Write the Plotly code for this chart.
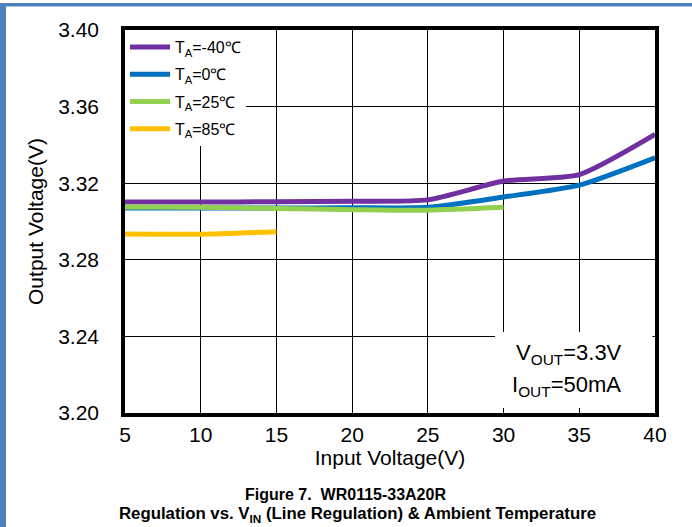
import plotly.graph_objects as go

x_vin = [5, 10, 15, 20, 25, 30, 35, 40]
v_m40 = [3.3102, 3.3102, 3.3103, 3.3106, 3.3113, 3.3211, 3.3245, 3.3455]
v_0 = [3.3071, 3.3070, 3.3070, 3.3072, 3.3074, 3.3128, 3.3190, 3.3333]
x_25 = [5, 10, 15, 20, 25, 30]
v_25 = [3.3076, 3.3074, 3.3068, 3.3062, 3.3059, 3.3074]
x_85 = [5, 10, 15]
v_85 = [3.2935, 3.2934, 3.2947]

names = ["T<sub>A</sub>=-40℃", "T<sub>A</sub>=0℃", "T<sub>A</sub>=25℃", "T<sub>A</sub>=85℃"]
colors = ["#7030A0", "#0070C0", "#92D050", "#FFC000"]

W, H = 692, 527
L, R, T, B = 125, 655, 30, 413


def px(xp):
    return (xp - L) / (R - L)


def py(yp):
    return (B - yp) / (B - T)


fig = go.Figure()
# draw order: blue, purple, green, orange ; legend order via legendrank
traces = [
    (x_vin, v_0, 1),
    (x_vin, v_m40, 0),
    (x_25, v_25, 2),
    (x_85, v_85, 3),
]
for xs, ys, i in traces:
    fig.add_trace(go.Scatter(
        x=xs, y=ys, mode="lines", name=names[i],
        line=dict(color=colors[i], width=5, shape="spline", smoothing=0.6),
        legendrank=i + 1, legendgroup=str(i),
    ))

font = "Liberation Sans, Arial, sans-serif"

fig.update_layout(
    width=W, height=H,
    margin=dict(l=L, r=W - R, t=T, b=H - B),
    paper_bgcolor="white", plot_bgcolor="white",
    font=dict(family=font, color="black"),
    showlegend=True,
    legend=dict(
        x=0, y=1, xanchor="left", yanchor="top",
        bgcolor="white", borderwidth=0,
        font=dict(size=16, family=font, color="black"),
        tracegroupgap=3.5, itemwidth=40,
    ),
    xaxis=dict(
        range=[5, 40], dtick=5, tick0=5,
        showgrid=True, gridcolor="black", gridwidth=1,
        showline=True, linecolor="black", linewidth=3.5, mirror=True,
        ticks="", zeroline=False,
        tickfont=dict(size=21, family=font, color="black"),
        title=dict(text="Input Voltage(V)", font=dict(size=21, family=font, color="black"), standoff=6),
    ),
    yaxis=dict(
        range=[3.20, 3.40], dtick=0.04, tick0=3.20, tickformat=".2f",
        showgrid=True, gridcolor="black", gridwidth=1,
        showline=True, linecolor="black", linewidth=3.5, mirror=True,
        ticks="", zeroline=False, ticklabelstandoff=18,
        tickfont=dict(size=21, family=font, color="black"),
        title=dict(text="Output Voltage(V)", font=dict(size=21, family=font, color="black"), standoff=10),
    ),
    shapes=[
        dict(type="rect", xref="paper", yref="paper",
             x0=px(495), x1=px(652.5), y0=py(408), y1=py(332),
             fillcolor="white", line=dict(width=0), layer="above"),
        dict(type="rect", xref="paper", yref="paper",
             x0=px(0), x1=px(6), y0=py(H), y1=py(3),
             fillcolor="#4F81BD", line=dict(width=0), layer="above"),
        dict(type="rect", xref="paper", yref="paper",
             x0=px(0), x1=px(W), y0=py(6.5), y1=py(3),
             fillcolor="#4F81BD", line=dict(width=0), layer="above"),
    ],
    annotations=[
        dict(xref="paper", yref="paper", x=px(569), y=py(354),
             text="V<sub>OUT</sub>=3.3V", showarrow=False,
             font=dict(size=22, family=font, color="black"), xanchor="center", yanchor="middle"),
        dict(xref="paper", yref="paper", x=px(566), y=py(386),
             text="I<sub>OUT</sub>=50mA", showarrow=False,
             font=dict(size=22, family=font, color="black"), xanchor="center", yanchor="middle"),
        dict(xref="paper", yref="paper", x=px(345), y=py(494),
             text="<b>Figure 7.  WR0115-33A20R</b>", showarrow=False,
             font=dict(size=16, family=font, color="black"), xanchor="center", yanchor="middle"),
        dict(xref="paper", yref="paper", x=px(357), y=py(514),
             text="<b>Regulation vs. V<sub>IN</sub> (Line Regulation) &amp; Ambient Temperature</b>",
             showarrow=False,
             font=dict(size=16.8, family=font, color="black"), xanchor="center", yanchor="middle"),
    ],
)

fig.write_html("out.html")
